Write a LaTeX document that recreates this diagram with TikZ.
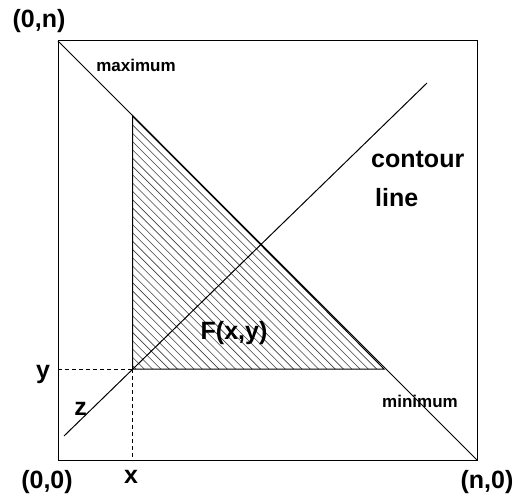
\documentclass[tikz,border=0pt]{standalone}
\usepackage{fontspec}
\setmainfont{Liberation Sans}
\begin{document}
\begin{tikzpicture}[x=1pt,y=-1pt,
  big/.style={font=\bfseries\fontsize{25}{30}\selectfont, inner sep=0pt},
  small/.style={font=\bfseries\fontsize{17}{20}\selectfont, inner sep=0pt},
  frame/.style={draw=black, line width=1pt},
  thin/.style={draw=black, line width=1pt},
  dashline/.style={draw=black, line width=0.9pt, dash pattern=on 4pt off 3pt},
  hatch/.style={draw=black!75, line width=0.6pt}]
\useasboundingbox (0,0) rectangle (517,495);
\coordinate (O) at (58,460);
\coordinate (N0) at (477,460);
\coordinate (ON) at (58,41);
\coordinate (NN) at (477,41);
\coordinate (P) at (132.5,369);
\coordinate (T) at (132.5,115.5);
\coordinate (R) at (384,369);
\coordinate (Xb) at (132.5,460);
\coordinate (Yl) at (58,369);
\coordinate (C1) at (64,436);
\coordinate (C2) at (427,83);
% hatching
\begin{scope}
\clip (T) -- (P) -- (R) -- cycle;
\foreach \i in {-36,...,36} {
  \draw[hatch] (132.5+8.3*\i,100) -- ++(300,300);
}
\end{scope}
\draw[frame] (O) -- (N0) -- (NN) -- (ON) -- cycle;
\draw[thin] (ON) -- (N0);
\draw[thin] (T) -- (P) -- (R) -- cycle;
\draw[thin] (C1) -- (C2);
\draw[dashline] (Yl) -- (P);
\draw[dashline] (P) -- (Xb);
% labels
\node[big, anchor=base] (l0n) at (39,28) {(0,n)};
\node[big, anchor=base] (l00) at (47,488) {(0,0)};
\node[big, anchor=base] (ln0) at (487,488) {(n,0)};
\node[big, anchor=base] (lx) at (131,483) {x};
\node[big, anchor=base] (ly) at (43,378) {y};
\node[big, anchor=base] (lz) at (80.5,415) {z};
\node[big, anchor=base] (lF) at (234,339) {F(x,y)};
\node[big, anchor=base west] (lc) at (371,167) {contour};
\node[big, anchor=base west] (ll) at (375,206) {line};
\node[small, anchor=base] (lmax) at (136,71) {maximum};
\node[small, anchor=base] (lmin) at (420,407) {minimum};
\end{tikzpicture}
\end{document}
